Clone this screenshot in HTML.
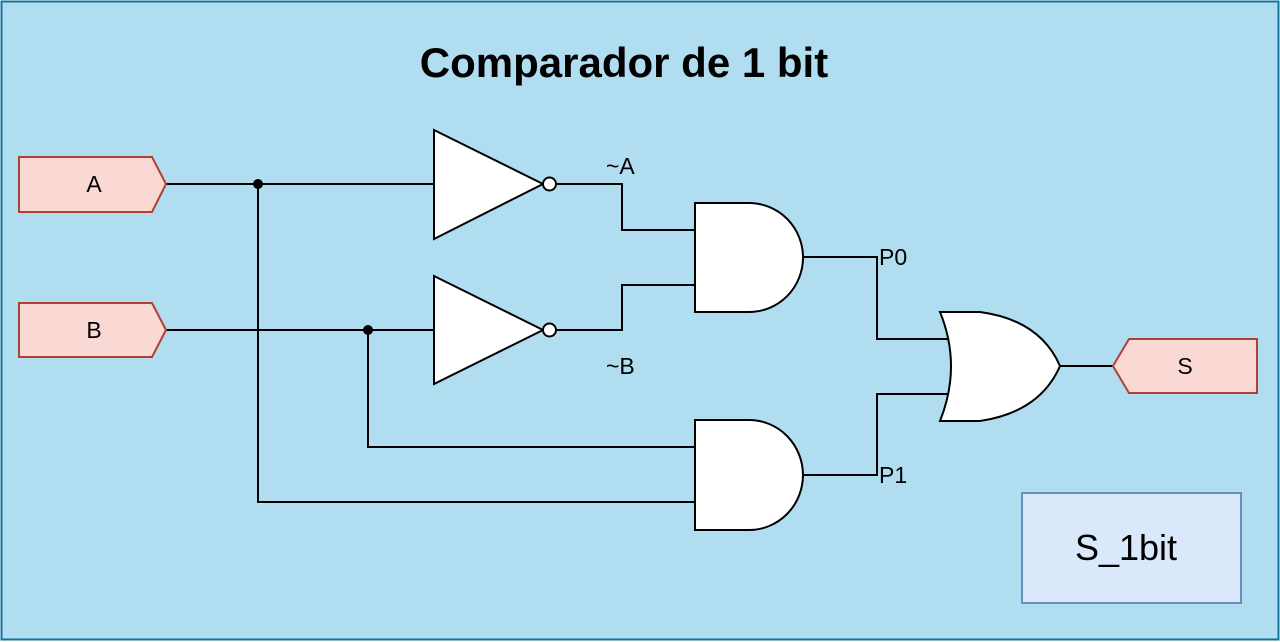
<!DOCTYPE html>
<html><head><style>
html,body{margin:0;padding:0;background:#fff;}
svg{display:block;font-family:"Liberation Sans",Arial,sans-serif;}
</style></head><body>
<svg width="1280" height="642" viewBox="0 0 1280 642">
<rect x="1.5" y="1.5" width="1277" height="638" fill="#b1ddf0" stroke="#10739e" stroke-width="2"/>
<text x="624" y="77" font-size="42" font-weight="bold" text-anchor="middle" fill="#000">Comparador de 1 bit</text>
<g fill="none" stroke="#000" stroke-width="2">
<path d="M166 184H434M258 184V502H695M166 330H434M368 330V447H695"/>
<path d="M555 184H622V230H695M555 330H622V285H695"/>
<path d="M803 257H877V339H952M803 475H877V394H952M1060 366H1113"/>
</g>
<circle cx="258" cy="184" r="5" fill="#000"/>
<circle cx="368" cy="330" r="5" fill="#000"/>
<g fill="#fff" stroke="#000" stroke-width="2">
<path d="M434 130L543 184L434 239Z"/>
<circle cx="549.5" cy="184" r="6.5"/>
<path d="M434 276L543 330L434 384Z"/>
<circle cx="549.5" cy="330" r="6.5"/>
<path d="M695 203H749A54 54.5 0 0 1 749 312H695Z"/>
<path d="M695 420H749A54 55 0 0 1 749 530H695Z"/>
<path d="M940 312H980Q1040 320 1060 366Q1040 412 980 421H940Q962 366 940 312Z"/>
</g>
<g fill="#fad9d5" stroke="#ae4132" stroke-width="2">
<path d="M19 157H152L166 184L152 212H19Z"/>
<path d="M19 303H152L166 330L152 357H19Z"/>
<path d="M1257 339H1129L1113 366L1129 393H1257Z"/>
</g>
<g font-size="23" fill="#000">
<text x="94" y="192" text-anchor="middle">A</text>
<text x="94" y="338" text-anchor="middle">B</text>
<text x="1185" y="374" text-anchor="middle">S</text>
<text x="606" y="174">~A</text>
<text x="606" y="374">~B</text>
<text x="879" y="265">P0</text>
<text x="879" y="483">P1</text>
</g>
<rect x="1022" y="493" width="219" height="110" fill="#dae8fc" stroke="#6c8ebf" stroke-width="2"/>
<text x="1126" y="560" font-size="36" text-anchor="middle" fill="#000">S_1bit</text>
</svg>
</body></html>
